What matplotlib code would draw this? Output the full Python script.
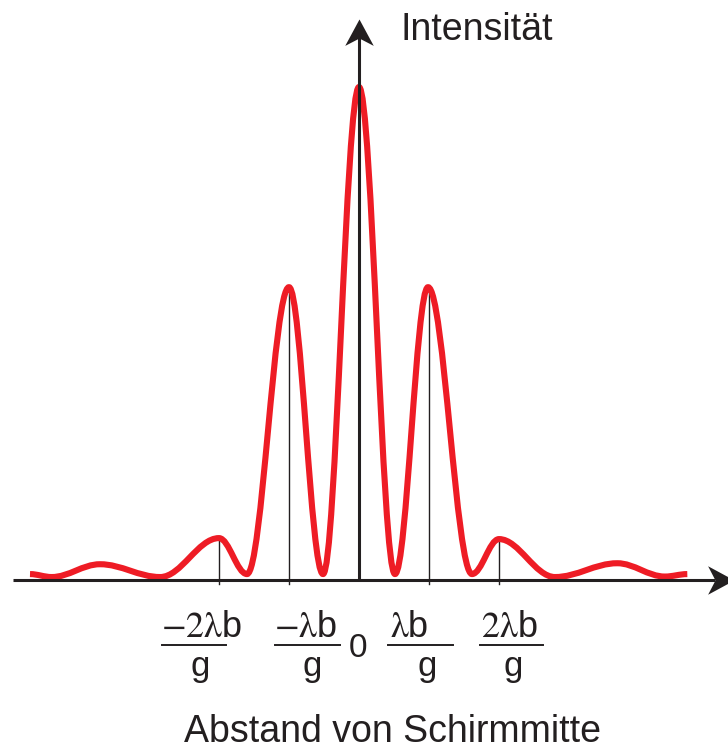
import matplotlib
matplotlib.use("Agg")
import matplotlib.pyplot as plt
from matplotlib.path import Path
from matplotlib.patches import PathPatch

plt.rcParams['font.family'] = ['Liberation Sans', 'DejaVu Sans']
plt.rcParams['mathtext.fontset'] = 'stix'

# turning points of the intensity curve
# x in units of lambda*b/g, y relative to the central maximum
curve_x = [-4.70, -4.39, -3.70, -2.84, -2.00, -1.60, -1.00, -0.514, 0.0,
           0.514, 0.986, 1.614, 2.00, 2.80, 3.69, 4.37, 4.69]
curve_y = [0.012, 0.006, 0.032, 0.006, 0.085, 0.012, 0.594, 0.012, 1.0,
           0.012, 0.594, 0.012, 0.083, 0.006, 0.034, 0.007, 0.012]

# orders with a marker line and their labels
orders = [-2, -1, 1, 2]
order_heights = [0.085, 0.594, 0.594, 0.083]
numerators = [r'$\mathrm{-2\lambda}$b', r'$\mathrm{-\lambda}$b',
              r'$\mathrm{\lambda}$b', r'$\mathrm{2\lambda}$b']

RED = '#ee1c25'
DARK = '#231f20'

# pixel layout: centre at x=359px, 70px per unit, baseline at y=580px, 493px per unit
W, H = 728, 751
fig = plt.figure(figsize=(W / 100, H / 100), dpi=100)
ax = fig.add_axes([0, 0, 1, 1])
ax.set_xlim(-359 / 70, (W - 359) / 70)
ax.set_ylim(-(H - 580) / 493, 580 / 493)
ax.axis('off')


def px(x):
    return (x - 359) / 70


def py(y):
    return (580 - y) / 493


# smooth curve: cubic segments with flat tangents at every turning point
k = 0.36
verts = [(curve_x[0], curve_y[0])]
codes = [Path.MOVETO]
for i in range(1, len(curve_x)):
    x0, y0 = curve_x[i - 1], curve_y[i - 1]
    x1, y1 = curve_x[i], curve_y[i]
    dx = x1 - x0
    verts += [(x0 + k * dx, y0), (x1 - k * dx, y1), (x1, y1)]
    codes += [Path.CURVE4] * 3

# thin lines under the side maxima
for o, h in zip(orders, order_heights):
    ax.plot([o, o], [-0.008, h], color=DARK, lw=1.0, zorder=1)

ax.add_patch(PathPatch(Path(verts, codes), fill=False, edgecolor=RED,
                       lw=4.4, capstyle='butt', joinstyle='round', zorder=2))

# axes
ax.plot([px(13), px(715)], [0, 0], color=DARK, lw=2.2, zorder=3,
        solid_capstyle='butt')
ax.plot([0, 0], [0, py(35)], color=DARK, lw=2.2, zorder=3,
        solid_capstyle='butt')

# concave arrow heads, tip at the marker origin
head_right = Path([(0, 0), (-1, 0.54), (-0.72, 0), (-1, -0.54), (0, 0)],
                  [Path.MOVETO, Path.LINETO, Path.LINETO, Path.LINETO,
                   Path.CLOSEPOLY])
head_up = Path([(0, 0), (0.54, -1), (0, -0.72), (-0.54, -1), (0, 0)],
               [Path.MOVETO, Path.LINETO, Path.LINETO, Path.LINETO,
                Path.CLOSEPOLY])
ax.plot([px(734)], [0], marker=head_right, ms=38, color=DARK, mew=0,
        zorder=4, clip_on=False)
ax.plot([0], [py(19)], marker=head_up, ms=38, color=DARK, mew=0,
        zorder=4, clip_on=False)

ax.text(px(400), py(40), 'Intensität', fontsize=27, color=DARK,
        ha='left', va='baseline')
ax.text(px(393), py(742), 'Abstand von Schirmmitte', fontsize=27,
        color=DARK, ha='center', va='baseline')

# fraction labels
num_cx = [202, 306, 409, 509]
bar_l = [162, 275, 388, 480]
bar_r = [226, 340, 453, 543]
g_cx = [200, 312, 427, 513]
for n, c, bl, br, g in zip(numerators, num_cx, bar_l, bar_r, g_cx):
    ax.text(px(c), py(637), n, fontsize=26, color=DARK, ha='center',
            va='baseline')
    ax.plot([px(bl), px(br)], [py(645), py(645)], color=DARK, lw=1.4)
    ax.text(px(g), py(676), 'g', fontsize=25, color=DARK, ha='center',
            va='baseline')
ax.text(px(358), py(657), '0', fontsize=24, color=DARK, ha='center',
        va='baseline')

fig.savefig('out.png', dpi=100)
